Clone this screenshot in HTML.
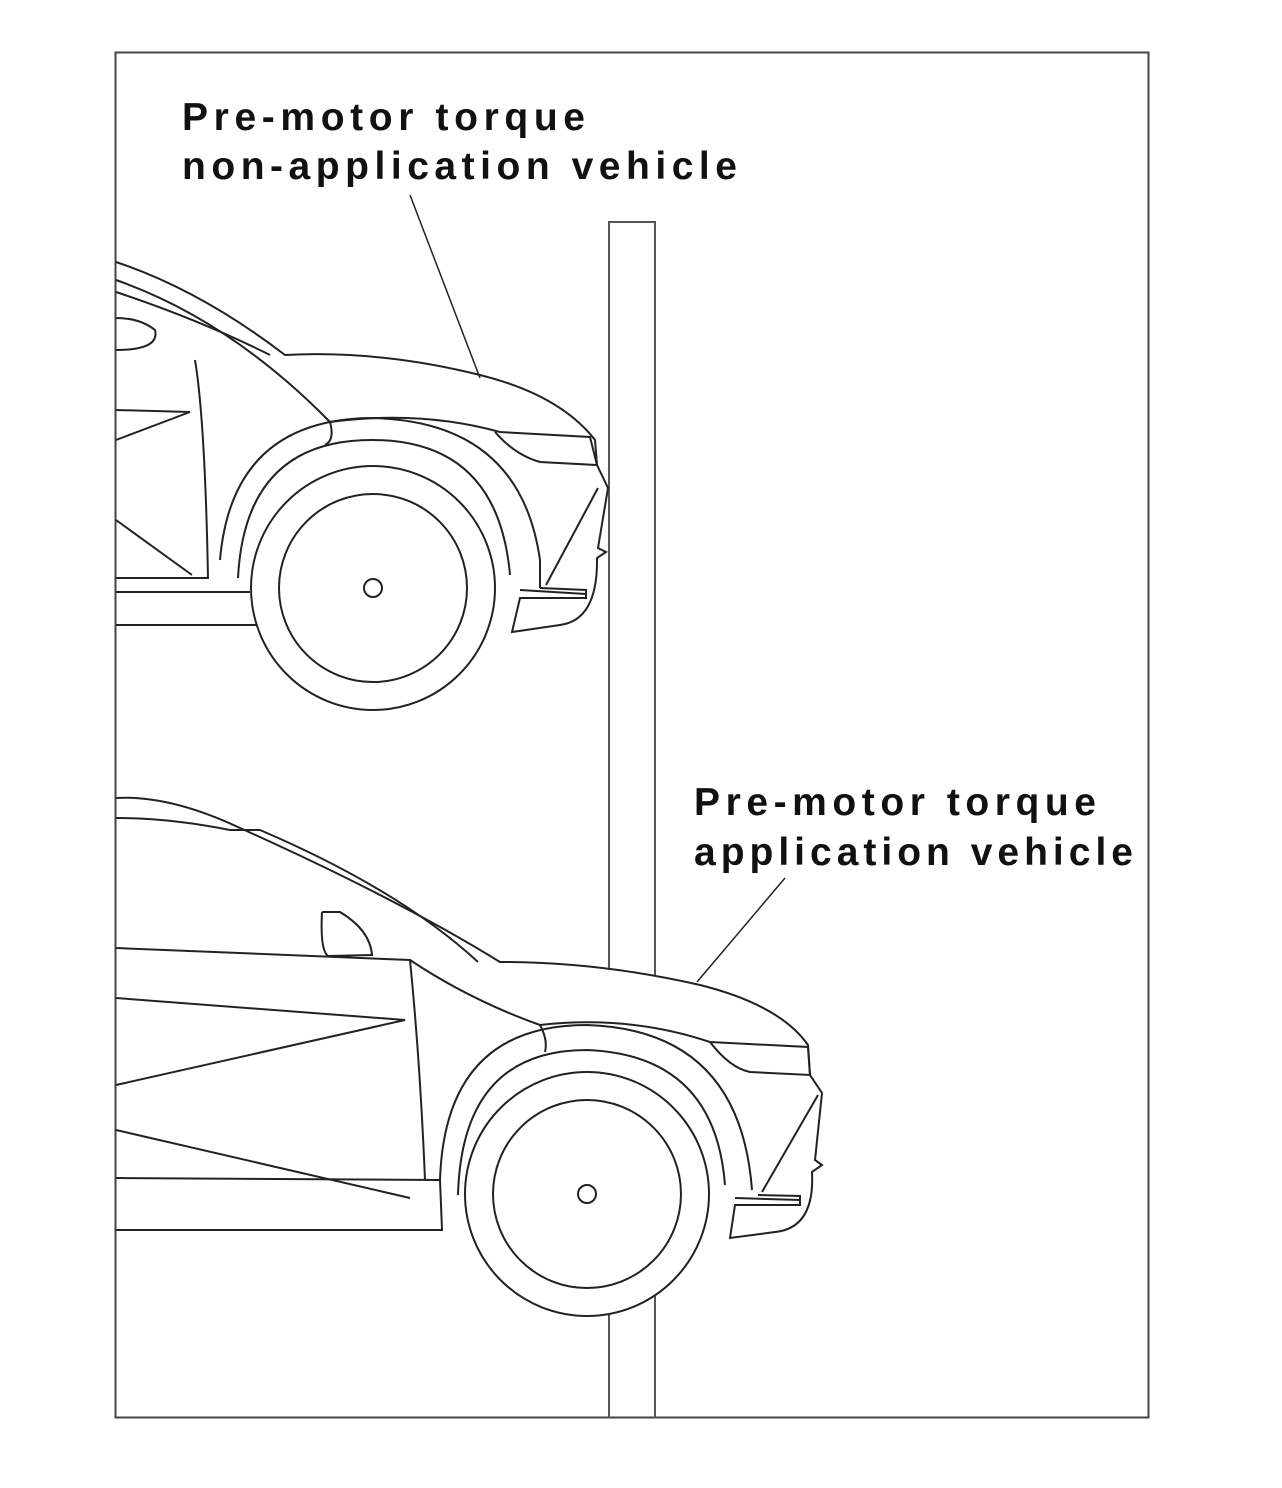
<!DOCTYPE html>
<html><head><meta charset="utf-8"><style>
html,body{margin:0;padding:0;background:#fff;}
svg{display:block;}
text{font-family:"Liberation Sans",sans-serif;font-weight:bold;font-size:39px;fill:#111;}
</style></head><body>
<svg width="1282" height="1488" viewBox="0 0 1282 1488" xmlns="http://www.w3.org/2000/svg">
<g fill="none" stroke="#222" stroke-width="2">
<rect x="115.5" y="52.5" width="1033" height="1365" stroke="#444"/>
<path d="M609 1418 V222 H655 V1418" stroke="#555"/>
<g fill="#fff">
<path d="M116 262 Q200 290 285 355 Q380 350 480 375 Q560 395 595 440 L597 465 L608 488 L598 548 L606 552 L597 558 Q598 620 560 625 L512 632 L520 598 L586 598 L586 590 L540 588"/>
</g>
<path d="M116 292 Q200 320 270 355"/>
<path d="M116 280 Q230 320 330 422"/>
<path d="M116 318 Q140 318 155 330 Q160 350 116 350"/>
<path d="M116 410 L190 412 L116 440"/>
<path d="M116 520 L192 575"/>
<path d="M195 360 Q205 420 208 578 L116 578"/>
<path d="M116 592 L250 592 M116 625 L256 625"/>
<path d="M330 422 Q335 440 325 445"/>
<path d="M330 422 Q420 410 500 432 L590 437 L597 465 L540 462 Q515 455 495 432"/>
<path d="M220 560 Q232 420 370 418 Q520 420 540 560 L540 588"/>
<path d="M238 578 Q245 440 372 440 Q498 440 510 575"/>
<path d="M598 488 L546 585"/>
<path d="M520 590 L586 594"/>
<circle cx="373" cy="588" r="122" fill="#fff"/>
<circle cx="373" cy="588" r="94"/>
<circle cx="373" cy="588" r="9"/>
<path d="M410 195 L480 378" stroke-width="1.5"/>
<g fill="#fff">
<path d="M116 798 Q170 795 240 828 Q400 900 500 962 Q600 962 700 985 Q780 1005 808 1045 L810 1075 L822 1093 L815 1160 L822 1165 L812 1172 Q815 1228 775 1232 L730 1238 L735 1205 L800 1205 L800 1196 L758 1195"/>
</g>
<path d="M116 818 Q170 818 230 830 L260 830 Q400 890 478 962"/>
<path d="M322 912 L340 912 Q370 930 372 955 L328 956 Q320 950 322 912"/>
<path d="M116 948 L410 960 Q420 1060 425 1180"/>
<path d="M116 998 L405 1020 L116 1085"/>
<path d="M116 1130 L410 1198"/>
<path d="M116 1178 L440 1180 L442 1230 L116 1230"/>
<path d="M410 960 Q470 1000 540 1025"/>
<path d="M540 1025 Q548 1040 545 1052"/>
<path d="M540 1025 Q630 1015 710 1042 L808 1047 L810 1075 L750 1072 Q730 1068 710 1042"/>
<path d="M440 1180 Q445 1025 587 1025 Q740 1030 752 1190"/>
<path d="M458 1195 Q462 1050 587 1050 Q715 1055 725 1185"/>
<path d="M818 1095 L762 1192"/>
<path d="M735 1198 L800 1200"/>
<circle cx="587" cy="1194" r="122" fill="#fff"/>
<circle cx="587" cy="1194" r="94"/>
<circle cx="587" cy="1194" r="9"/>
<path d="M785 878 L697 982" stroke-width="1.5"/>
</g>
<text x="182" y="130" textLength="403" lengthAdjust="spacing">Pre-motor torque</text>
<text x="182" y="179" textLength="555" lengthAdjust="spacing">non-application vehicle</text>
<text x="694" y="815" textLength="402" lengthAdjust="spacing">Pre-motor torque</text>
<text x="694" y="865" textLength="439" lengthAdjust="spacing">application vehicle</text>
</svg>
</body></html>
